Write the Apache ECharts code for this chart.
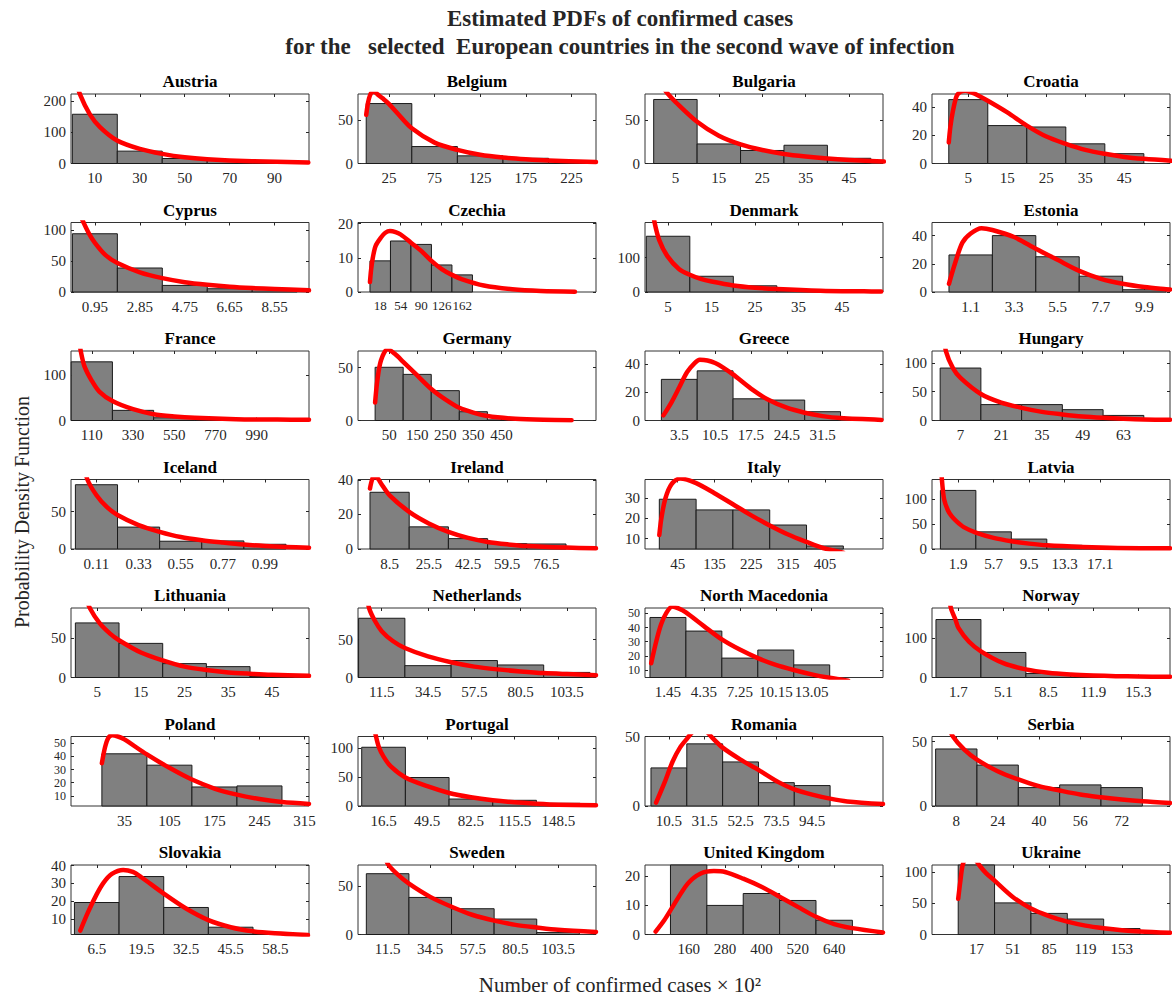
<!DOCTYPE html>
<html><head><meta charset="utf-8">
<script src="https://cdn.jsdelivr.net/npm/echarts@6.0.0/dist/echarts.min.js"></script>
<style>html,body{margin:0;padding:0;background:#fff}#c{width:1172px;height:999px}</style>
</head><body><div id="c"></div>
<script>
const countries = ['Austria','Belgium','Bulgaria','Croatia','Cyprus','Czechia','Denmark','Estonia',
  'France','Germany','Greece','Hungary','Iceland','Ireland','Italy','Latvia',
  'Lithuania','Netherlands','North Macedonia','Norway','Poland','Portugal','Romania','Serbia',
  'Slovakia','Sweden','United Kingdom','Ukraine'];

// bin centres = x tick labels
const binCenters = [
  [10,30,50,70,90],[25,75,125,175,225],[5,15,25,35,45],[5,15,25,35,45],
  [0.95,2.85,4.75,6.65,8.55],[18,54,90,126,162],[5,15,25,35,45],[1.1,3.3,5.5,7.7,9.9],
  [110,330,550,770,990],[50,150,250,350,450],[3.5,10.5,17.5,24.5,31.5],[7,21,35,49,63],
  [0.11,0.33,0.55,0.77,0.99],[8.5,25.5,42.5,59.5,76.5],[45,135,225,315,405],[1.9,5.7,9.5,13.3,17.1],
  [5,15,25,35,45],[11.5,34.5,57.5,80.5,103.5],[1.45,4.35,7.25,10.15,13.05],[1.7,5.1,8.5,11.9,15.3],
  [35,105,175,245,315],[16.5,49.5,82.5,115.5,148.5],[10.5,31.5,52.5,73.5,94.5],[8,24,40,56,72],
  [6.5,19.5,32.5,45.5,58.5],[11.5,34.5,57.5,80.5,103.5],[160,280,400,520,640],[17,51,85,119,153]
];

const barHeights = [
  [158,39.7,16,9.7,4],[69,19.5,8.8,6,2.7],[73.7,22.5,15,21,6],[45.5,27,26,14,7],
  [94.7,39,10.7,5.3,5.3],[9.1,14.9,13.9,7.9,5],[162,45.7,18,3,1.5],[26.3,40,25,11.2,1.6],
  [130,22.5,6,2,1],[50.3,43.6,28.2,8.3,0.6],[29,35,15.3,14.4,6.2],[91,27.6,27.6,18.8,8.8],
  [86,29.3,10.4,10.8,6.3],[32.8,12.8,6,3.1,2.9],[29.5,24.2,24.2,16.7,6.3],[118,34.5,20,7.4,2],
  [68.8,43,17.5,13.7,1.3],[78,15.6,22.3,16.5,6.7],[47.1,37.5,18.4,24.1,13.6],[146,63,10,6,3],
  [41.9,33.3,16.8,17.6,0],[101,49,12,9.8,4.6],[27.4,44.7,31.7,16.8,14.7],[44.3,31.8,14.3,16.4,14.3],
  [19.3,33.9,16.5,5.4,1.7],[63,38.4,26.7,16,2],[30,10,14.1,11.7,4.9],[115,50.5,33.7,24.7,9.5]
];

const xRanges = [
  [-0.6,105.3],[-9,252],[-2,52.8],[-4.3,56.7],
  [-0.06,10.0],[-21,397],[-0.3,54.4],[-0.86,11.2],
  [-1,1269],[-61,787],[-3.2,43.3],[-2.8,79],
  [-0.023,1.22],[-5.2,98],[-35,547],[-0.9,24.6],
  [-1,53.5],[-0.3,118],[-0.4,18.8],[-0.3,17.7],
  [-48,322],[-2.8,177],[-3.5,136],[-1.4,90.7],
  [-1,68.3],[-4.5,124],[16,801],[-24.5,198]
];

const yRanges = [
  [0,223],[0,80],[0,80],[0,49.5],
  [0,113],[0,20.3],[0,202],[0,49.3],
  [0,154],[0,65.7],[0,49],[0,120.6],
  [0,93],[0,40.2],[4.8,39.3],[0,140],
  [0,87.6],[0,91.5],[4.7,53.8],[0,175],
  [2.4,55],[0,119.5],[0,50],[0,54],
  [1.3,40.4],[0,72],[0,23.9],[0,111]
];

const yTicks = [
  [0,100,200],[0,50],[0,50],[0,20,40],
  [0,50,100],[0,10,20],[0,100],[0,20,40],
  [0,100],[0,50],[0,20,40],[0,50,100],
  [0,50],[0,20,40],[10,20,30],[0,50,100],
  [0,50],[0,50],[10,20,30,40,50],[0,100],
  [10,20,30,40,50],[0,50,100],[0,50],[0,50],
  [10,20,30,40],[0,50],[0,10,20],[0,50,100]
];

// fitted PDF curves (x, density)
const curves = [
  [[1.5,270],[3.4,222],[7.85,157],[12.3,117],[19.9,74],[30,47],[40,31],[50,20],[60,14],[80,7.5],[105,3.2]],
  [[0,56],[2,70],[4,78],[7,83],[10,82],[12,80],[18,75],[24.6,69],[35,57],[50,40.5],[75,24],[100,15.6],[125,10],[150,6.8],[175,4.8],[200,3.4],[252,1.8]],
  [[2.5,85],[3.3,80],[5,71],[10,48],[15,32],[20,22],[25,15.5],[30,11],[35,8],[40,5.7],[45,4],[50,2.8],[53,2.2]],
  [[0,15],[0.4,26],[1,36.5],[2,48],[3,51],[4.3,51.8],[5.5,51],[6.8,49.5],[10,44.7],[15,36.4],[20,27],[25,19.2],[30,14],[35,9.7],[40,6.9],[45,4.7],[50,3.3],[57,1.9]],
  [[0.3,128],[0.47,113],[0.7,95],[0.95,80],[1.4,60],[1.9,47],[2.85,32],[3.8,22.5],[4.75,16],[5.7,11.8],[6.65,8.6],[7.6,6.4],[8.55,4.8],[10,2.7]],
  [[0,2.9],[2,6.5],[5,10],[10,13.5],[19.7,16],[27,17.3],[35,17.8],[45,17.5],[54,16.8],[72,14.4],[90,12],[108,9.1],[126,6.7],[144,5],[162,3.7],[200,1.9],[250,0.8],[300,0.3],[360,0.1]],
  [[1.5,240],[1.9,202],[3,150],[4.8,105],[7.5,67],[10,50],[12.5,38],[15,30.5],[20,19],[25,12.4],[30,8.6],[40,3.8],[50,1.9],[54,1.4]],
  [[0,5.8],[0.3,20],[0.68,35],[1.1,41.5],[1.65,45.3],[2.2,44],[3.3,39],[4.4,30.7],[5.5,22.8],[6.6,15],[7.7,9.3],[8.8,5.8],[9.9,3.5],[11,2],[11.2,1.8]],
  [[45,175],[51,154],[71,120],[110,88],[150,64],[220,43],[330,25],[440,14],[550,9],[660,6],[880,3],[1100,2],[1269,1.5]],
  [[0,17],[8,38],[21,57],[45,67.5],[70,63],[100,55.5],[150,42.6],[200,29.8],[250,20],[300,12],[350,7.4],[400,4.2],[500,1.6],[600,0.6],[700,0.3]],
  [[0.4,3.6],[2,13],[3.5,23.4],[5,34],[6.5,40.5],[7.5,42.8],[9,42.3],[10.5,40.5],[12,37.5],[14,32.5],[17.5,22.5],[21,14.4],[24.5,9],[28,5.5],[31.5,3.1],[35,1.7],[43,0.4]],
  [[1.3,150],[2,120],[4.4,91],[7,74],[14,46],[21,31],[28,22],[35,15],[42,10.6],[49,7],[56,4.7],[63,3],[70,1.8],[79,1.2]],
  [[0.05,110],[0.0625,93],[0.11,72],[0.165,56],[0.22,45.5],[0.33,32],[0.44,23],[0.55,16],[0.66,11.7],[0.77,8.6],[0.88,5.9],[0.99,4],[1.1,2.7],[1.22,1.8]],
  [[0,35],[1,40.5],[2,42],[3.5,40.6],[5,37.5],[8.5,31],[17,21.5],[25.5,14.8],[34,9.9],[42.5,6.4],[51,4.1],[59.5,2.7],[68,1.7],[85,0.8],[98,0.4]],
  [[0,11.7],[5,20],[15,30],[30,37],[51,39.8],[90,37.5],[135,32.5],[180,27],[225,21.5],[270,16.5],[315,12],[360,8.3],[400,5.3],[450,3]],
  [[0.1,165],[0.16,140],[0.4,100],[0.8,78],[1.2,66],[1.76,55],[2.5,44],[3.8,33],[5.7,22.3],[7.6,15.5],[9.5,10.8],[11.4,7.4],[15.2,4],[19,2],[24.6,1.3]],
  [[2.5,100],[3.3,87.6],[5.5,68.8],[8,55],[10,47],[15,31.5],[20,21.5],[25,13.7],[30,9.4],[35,6.4],[40,4.7],[45,3.4],[53.5,2.1]],
  [[4,110],[5.2,91.5],[8,75],[11.5,61],[17,48],[23,38.8],[34.5,27.7],[46,20],[57.5,14.3],[69,10.7],[80.5,8],[92,5.8],[103.5,4.5],[118,3.1]],
  [[0.1,14.8],[0.5,30],[0.9,42.3],[1.3,50],[1.8,54.8],[2.3,53.5],[2.9,50.7],[4.35,41],[5.8,31.6],[7.25,24.4],[8.7,18.4],[10.15,13.6],[11.6,10],[13.05,6.9],[14.5,4.5],[16,2.5]],
  [[0.9,220],[1.13,175],[1.47,146],[1.7,125],[2.5,90],[3.4,66],[5.1,36],[6.8,20.5],[8.5,12],[10.2,7.7],[11.9,5.1],[13.6,3.4],[15.3,2.5],[17.7,1.7]],
  [[0,34.8],[5,47],[10,54],[16,56],[25,55],[35,52.8],[70,41.4],[105,31.3],[140,22.4],[175,15.6],[210,11],[245,7.7],[280,5.4],[322,4]],
  [[9,140],[10.8,119.5],[13,101],[16.5,85],[22,68],[33,49],[49.5,34],[66,22.4],[82.5,15],[99,9.8],[115.5,6.3],[132,4],[148.5,2.3],[177,1.2]],
  [[3,2.4],[8,17],[12.7,32],[17,42],[21.5,49],[25,54],[29,56],[33,53],[36,49],[42,42],[52.5,33.4],[63,26],[75,17],[84,12],[94.5,8.2],[105,5.3],[115,3.3],[136,1.4]],
  [[5,62],[6.7,54],[11,44],[16,36],[24,27],[32,20.6],[40,15.4],[48,12],[56,8.9],[64,6.8],[72,5],[80,3.6],[90.7,2.3]],
  [[1.7,3.5],[4,14],[6.5,24],[8.5,30.5],[10.9,35.4],[14.2,37.6],[17,36.5],[19.5,33.5],[26,24.3],[32.5,15.9],[39,9.4],[45.5,5.4],[52,3.1],[58.5,2],[68,1]],
  [[10,80],[12,72],[17,62],[23,52.7],[34.5,39],[46,28.8],[57.5,20.2],[69,14.4],[80.5,10],[92,7.2],[103.5,4.8],[124,2.7]],
  [[51,1],[80,5],[107,9.5],[157,17.5],[200,21],[243,21.8],[280,21.5],[340,19.2],[400,16.4],[460,13],[520,9.5],[580,6.1],[640,3.6],[700,2.2],[801,0.7]],
  [[0,57],[2,85],[4.2,111],[8,125],[12,127],[16,120],[19.6,111],[26,98],[34,86],[51,60],[68,41.6],[85,29.5],[102,20.5],[119,14.2],[136,10],[153,6.8],[170,4.7],[198,2.6]]
];

const mainTitle = 'Estimated PDFs of confirmed cases\nfor the   selected  European countries in the second wave of infection';
const yLabel = 'Probability Density Function';
const xLabel = 'Number of confirmed cases \u00d7 10\u00b2';

const FONT = 'Liberation Serif';
const AXC = '#262626';
const chart = echarts.init(document.getElementById('c'), null, {renderer: 'svg', width: 1172, height: 999});

const grids = [], xAxes = [], yAxes = [], series = [], titles = [];
titles.push({text: mainTitle, left: 620, top: 4, textAlign: 'center', padding: 0,
  textStyle: {fontFamily: FONT, fontWeight: 'bold', fontSize: 23, lineHeight: 28, color: AXC}});

function renderBar(params, api) {
  const a = api.coord([api.value(0), 0]);
  const b = api.coord([api.value(1), api.value(2)]);
  const cs = params.coordSys;
  const r = echarts.graphic.clipRectByRect(
    {x: a[0], y: b[1], width: b[0] - a[0], height: a[1] - b[1]},
    {x: cs.x, y: cs.y, width: cs.width, height: cs.height});
  if (!r || r.height <= 0) return null;
  return {type: 'rect', shape: r, style: {fill: '#808080', stroke: '#1a1a1a', lineWidth: 1}};
}

function tick(values) {
  return {show: true, inside: true, length: 3, customValues: values, lineStyle: {color: AXC}};
}
function label(values, size, margin) {
  return {show: true, customValues: values, showMinLabel: true, showMaxLabel: true, hideOverlap: false,
    margin: margin, fontFamily: FONT, fontSize: size, color: AXC, formatter: v => String(v)};
}

countries.forEach((name, i) => {
  const r = Math.floor(i / 4), c = i % 4;
  const left = 71 + 287 * c, top = 94 + 128.5 * r, w = 238, h = 69.5;
  grids.push({left, top, width: w, height: h, show: true, borderColor: '#333', borderWidth: 1, containLabel: false});
  titles.push({text: name, left: left + w / 2, top: top - 21, textAlign: 'center', padding: 0,
    textStyle: {fontFamily: FONT, fontWeight: 'bold', fontSize: 17, color: '#000'}});
  const centers = binCenters[i];
  const bw = centers[1] - centers[0];
  const tickPx = w * bw / (xRanges[i][1] - xRanges[i][0]);
  const xFont = tickPx < 25 ? 13 : 15;
  const yt = yTicks[i];
  const yStepPx = h * (yt[1] - yt[0]) / (yRanges[i][1] - yRanges[i][0]);
  const yFont = Math.min(15, Math.floor(yStepPx / 1.1));
  const base = {type: 'value', splitLine: {show: false}, axisLine: {show: false, onZero: false}};
  const xr = {min: xRanges[i][0], max: xRanges[i][1]};
  const yr = {min: yRanges[i][0], max: yRanges[i][1]};
  xAxes.push(Object.assign({gridIndex: i, position: 'bottom', axisTick: tick(centers),
    axisLabel: label(centers, xFont, 7)}, base, xr));
  xAxes.push(Object.assign({gridIndex: i, position: 'top', axisTick: tick(centers),
    axisLabel: {show: false}}, base, xr));
  const yEven = yt.filter((v, k) => k % 2 === 0), yOdd = yt.filter((v, k) => k % 2 === 1);
  yAxes.push(Object.assign({gridIndex: i, position: 'left', axisTick: tick(yt),
    axisLabel: label(yEven, yFont, 5)}, base, yr));
  yAxes.push(Object.assign({gridIndex: i, position: 'left', axisTick: {show: false},
    axisLabel: label(yOdd, yFont, 5)}, base, yr));
  yAxes.push(Object.assign({gridIndex: i, position: 'right', axisTick: tick(yt),
    axisLabel: {show: false}}, base, yr));
  const bars = centers.map((cv, k) => [cv - bw / 2, cv + bw / 2, barHeights[i][k]]);
  series.push({type: 'custom', xAxisIndex: 2 * i, yAxisIndex: 3 * i, data: bars, renderItem: renderBar,
    encode: {x: [0, 1], y: 2}, silent: true, z: 2});
  series.push({type: 'line', xAxisIndex: 2 * i, yAxisIndex: 3 * i, data: curves[i], smooth: 0.3,
    showSymbol: false, symbol: 'none', clip: true, silent: true, z: 3,
    lineStyle: {color: '#ff0000', width: 4.5, cap: 'round', join: 'round'}});
});

chart.setOption({
  animation: false,
  backgroundColor: '#ffffff',
  title: titles,
  grid: grids,
  xAxis: xAxes,
  yAxis: yAxes,
  series: series,
  graphic: [
    {type: 'text', x: 22, y: 512, rotation: Math.PI / 2,
      style: {text: yLabel, font: '20px "Liberation Serif"', fill: AXC, align: 'center', verticalAlign: 'middle'}},
    {type: 'text', x: 620, y: 985,
      style: {text: xLabel, font: '21px "Liberation Serif"', fill: AXC, align: 'center', verticalAlign: 'middle'}}
  ]
});
</script>
</body></html>
